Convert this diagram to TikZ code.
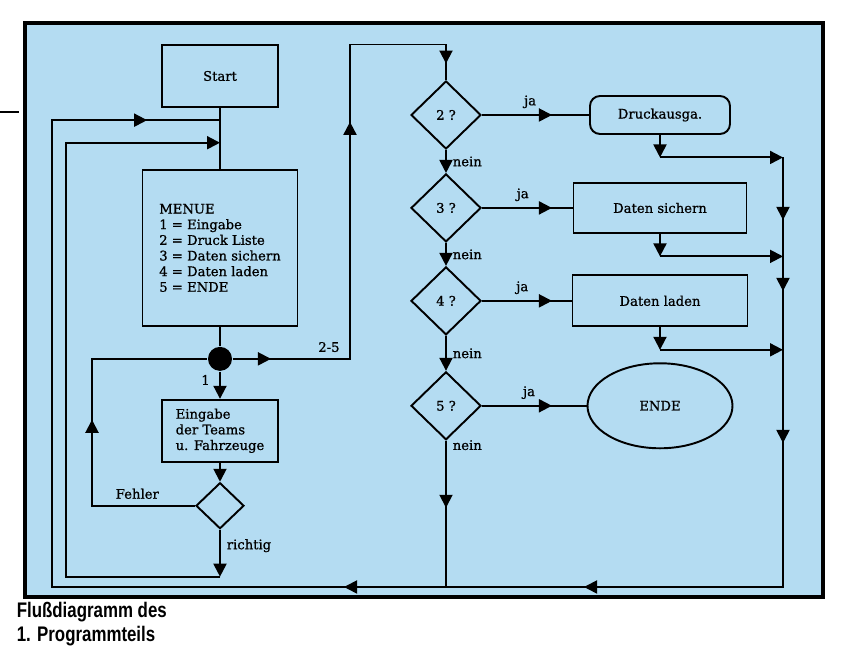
\documentclass[tikz,border=0pt]{standalone}
\usepackage{fontspec}
\usepackage{tikz}
\usetikzlibrary{arrows.meta, positioning, calc, shapes.geometric, decorations.markings}
\newfontfamily\slabfont{DejaVu Serif}[FakeBold=0.8]
\newfontfamily\capfont{Liberation Sans}[FakeStretch=0.8]
\definecolor{paper}{RGB}{180,220,242}
\tikzset{
    flowtip/.tip={Triangle[length=2.6mm, width=2.6mm]},
    flowchart/.style={>=flowtip, line width=1.1pt, font=\slabfont\fontsize{7.5}{8.9}\selectfont, node distance=0.46cm and 2cm},
    box/.style={draw, align=left, inner sep=0pt},
    roundbox/.style={box, rounded corners=2mm},
    decision/.style={draw, diamond, inner sep=0pt, minimum width=1.4cm, minimum height=1.36cm},
    terminal/.style={draw, ellipse, minimum width=2.9cm, minimum height=1.7cm},
    branch/.style={fill, circle, inner sep=0pt, minimum size=4.8mm},
    % filled head part way along a line, position measured from the start
    midarrow/.style={postaction={decorate, decoration={markings, mark=at position #1 with {\arrow{flowtip}}}}},
    jalabel/.style={pos=0.45, above},
    neinlabel/.style={right},
}
\begin{document}
\begin{tikzpicture}[flowchart]
    \useasboundingbox (0,0) rectangle (16.96,12.94);
    \draw[line width=2pt, fill=paper] (0.5,1.0) rectangle (16.46,12.48);
    \draw (0,10.70) -- (0.38,10.70);

    % left column
    \node[box, align=center, minimum width=2.32cm, minimum height=1.24cm] (start) at (4.40,11.42) {Start};
    \node[box, minimum width=3.1cm, minimum height=3.12cm, below=1.22cm of start] (menu)
        {MENUE\\1 = Eingabe\\2 = Druck Liste\\3 = Daten sichern\\4 = Daten laden\\5 = ENDE};
    \node[branch, below=0.38cm of menu]   (hub)   {};
    \node[box, minimum width=2.32cm, minimum height=1.24cm, below=0.54cm of hub] (input)
        {Eingabe\\der Teams\\u. Fahrzeuge};
    \node[decision, minimum width=0.96cm, minimum height=0.92cm, below=0.38cm of input] (check) {};
    \coordinate[below=0.94cm of check] (ok);

    % right column
    \node[decision]                   (q2)  at (8.92,10.64) {2 ?};
    \node[decision, below=of q2]      (q3)  {3 ?};
    \node[decision, below=of q3]      (q4)  {4 ?};
    \node[decision, below=0.7cm of q4] (q5) {5 ?};

    \coordinate (col) at (13.2,0);
    \node[roundbox, align=center, minimum width=2.8cm, minimum height=0.76cm] (print) at (col |- q2) {Druckausga.};
    \node[box, align=center, minimum width=3.46cm, minimum height=1cm]      (save)  at (col |- q3) {Daten sichern};
    \node[box, align=center, minimum width=3.5cm, minimum height=1.02cm]    (load)  at (col |- q4) {Daten laden};
    \node[terminal]                                                          (stop)  at (col |- q5) {ENDE};

    \coordinate (railbot) at (15.66,1.2);
    \coordinate (loopbot) at (1.04,1.2);
    \coordinate (up)      at (7.0,12.05);
    \coordinate (fehler)  at (1.84,0);
    \coordinate (innerx)  at (1.32,0);
    \coordinate (outer)   at ($(start.south)!0.2!(menu.north)$);
    \coordinate (inner)   at ($(start.south)!0.57!(menu.north)$);
    \coordinate[below=0.45cm of print] (pk);
    \coordinate[below=0.45cm of save]  (sk);
    \coordinate[below=0.45cm of load]  (lk);

    \draw (start) -- (menu);
    \draw (menu) -- (hub);
    \draw[->] (hub) -- node[left=2pt, pos=0.3] {1} (input);
    \draw[->] (input) -- (check);
    \draw[->] (check) -- node[right, pos=0.34] {richtig} (ok);
    \draw[->] (ok) -| (innerx |- inner) -- (inner);
    \draw[midarrow=3.78cm] (check) -- node[above, pos=0.56] {Fehler} (check -| fehler) |- (hub);

    % menu choices 2-5
    \draw[midarrow=0.76cm, midarrow=7.08cm, midarrow=-0.33cm] (hub) -| node[pos=0.41, above] {2-5} (up) -| (q2);

    \draw[midarrow=1.4cm] (q2) -- node[jalabel] {ja} (print);
    \draw[midarrow=1.4cm] (q3) -- node[jalabel] {ja} (save);
    \draw[midarrow=1.4cm] (q4) -- node[jalabel] {ja} (load);
    \draw[midarrow=1.4cm] (q5) -- node[jalabel] {ja} (stop);
    \draw[->] (q2) -- node[neinlabel] {nein} (q3);
    \draw[->] (q3) -- node[neinlabel] {nein} (q4);
    \draw[->] (q4) -- node[neinlabel] {nein} (q5);
    \draw[midarrow=1.34cm] (q5) -- node[neinlabel, pos=0.03] {nein} (q5 |- railbot);

    % back to the menu
    \draw[->] (print) -- (pk);
    \draw[->] (pk) -- (pk -| railbot);
    \draw[->] (save) -- (sk);
    \draw[->] (sk) -- (sk -| railbot);
    \draw[->] (load) -- (lk);
    \draw[->] (lk) -- (lk -| railbot);
    \draw[midarrow=1.25cm, midarrow=2.67cm, midarrow=5.71cm, midarrow=12.57cm, midarrow=17.37cm, midarrow=34.45cm]
        (pk -| railbot) -- (railbot) -- (loopbot) |- (outer);

    \node[anchor=base west, align=left, font=\capfont\bfseries\fontsize{12}{14}\selectfont] (title) at (0.2,0.1)
        {Flußdiagramm des\\1. Programmteils};
\end{tikzpicture}
\end{document}
